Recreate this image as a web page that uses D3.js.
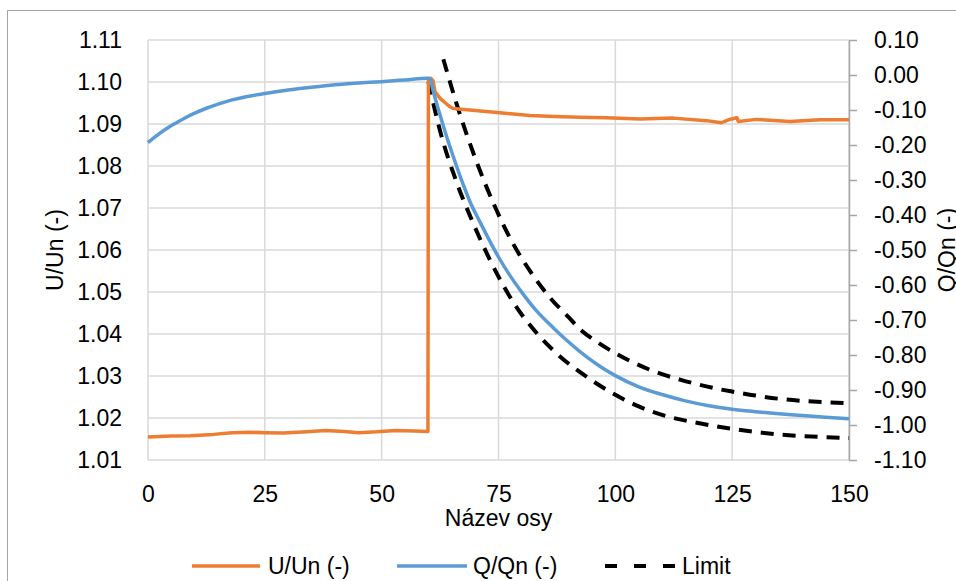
<!DOCTYPE html>
<html><head><meta charset="utf-8">
<script src="https://cdn.jsdelivr.net/npm/d3@7"></script>
<style>
html,body{margin:0;padding:0;background:#fff;overflow:hidden}
text{font-family:"Liberation Sans",Arial,sans-serif;fill:#000}
</style></head>
<body>
<svg id="c" width="956" height="581"></svg>
<script>
// ---- data ----
const xTicks = [0, 25, 50, 75, 100, 125, 150];
const uTicks = [1.01, 1.02, 1.03, 1.04, 1.05, 1.06, 1.07, 1.08, 1.09, 1.10, 1.11];
const qTicks = [-1.10, -1.00, -0.90, -0.80, -0.70, -0.60, -0.50, -0.40, -0.30, -0.20, -0.10, 0.00, 0.10];

const uTime = [0, 5, 9, 14, 18, 22, 25, 29, 34, 38, 42, 45, 49, 53, 57, 59.9, 60.0, 60.5, 61.0, 61.4, 62.5, 64.6, 65.3, 70, 75.3, 81.7, 87, 92.4, 98, 105.3, 112.4, 119.5, 122.7, 124.2, 126.0, 126.3, 130.2, 137.4, 143.8, 150];
const uValues = [1.0155, 1.0157, 1.0158, 1.0161, 1.0165, 1.0166, 1.0165, 1.0164, 1.0167, 1.0170, 1.0168, 1.0165, 1.0167, 1.0170, 1.0169, 1.0168, 1.1006, 1.1009, 1.1003, 1.0977, 1.0961, 1.0941, 1.0937, 1.0932, 1.0927, 1.0920, 1.0918, 1.0916, 1.0915, 1.0912, 1.0914, 1.0908, 1.0903, 1.0910, 1.0915, 1.0906, 1.0911, 1.0906, 1.0910, 1.0910];

const qTime = [0, 2, 4, 6, 8, 10, 12.5, 15, 18, 21, 25, 30, 35, 40, 45, 50, 55, 59.9, 60.3, 61, 62, 63, 64, 65.3, 67, 68.9, 71, 73, 75, 77.5, 80, 83, 86.7, 90, 94, 97, 100, 105, 110, 115, 120, 125, 130, 135, 140, 145, 150];
const qValues = [-0.193, -0.172, -0.153, -0.137, -0.122, -0.109, -0.095, -0.083, -0.071, -0.062, -0.053, -0.043, -0.035, -0.028, -0.023, -0.019, -0.014, -0.009, -0.010, -0.045, -0.092, -0.137, -0.180, -0.232, -0.297, -0.362, -0.419, -0.471, -0.520, -0.574, -0.621, -0.672, -0.722, -0.763, -0.807, -0.835, -0.859, -0.891, -0.913, -0.931, -0.945, -0.955, -0.962, -0.968, -0.973, -0.978, -0.982];

const limUpTime = [63.2, 66, 70, 74, 78, 82, 86, 90, 92.4, 96, 100, 103, 107, 110.3, 114, 118, 122, 125.2, 130, 135, 140, 145, 150];
const limUpValues = [0.045, -0.081, -0.237, -0.369, -0.479, -0.565, -0.636, -0.692, -0.726, -0.762, -0.795, -0.816, -0.840, -0.856, -0.871, -0.885, -0.897, -0.905, -0.916, -0.925, -0.931, -0.935, -0.938];

const limLoTime = [60, 62.5, 66, 69.6, 73.2, 78.2, 83.2, 87.4, 94.6, 99.9, 105, 111, 118, 124.5, 130, 135, 142, 150];
const limLoValues = [-0.019, -0.160, -0.305, -0.424, -0.529, -0.650, -0.738, -0.795, -0.869, -0.913, -0.947, -0.975, -0.995, -1.010, -1.020, -1.027, -1.033, -1.037];

const seriesNames = ["U/Un (-)", "Q/Qn (-)", "Limit"];
const colors = {u: "#ED7D31", q: "#5B9BD5", lim: "#000000"};

// ---- layout ----
const svg = d3.select("#c");
const L = 148, R = 849, T = 40, B = 460;
const x = d3.scaleLinear().domain([0, 150]).range([L, R]);
const yU = d3.scaleLinear().domain([1.01, 1.11]).range([B, T]);
const yQ = d3.scaleLinear().domain([-1.10, 0.10]).range([B, T]);

// outer chart border
svg.append("rect").attr("x", 7.5).attr("y", 10.5).attr("width", 1200).attr("height", 1200)
  .attr("fill", "none").attr("stroke", "#A6A6A6").attr("stroke-width", 1);

// gridlines
const grid = svg.append("g").attr("stroke", "#D9D9D9").attr("stroke-width", 1.5);
xTicks.forEach(t => grid.append("line").attr("x1", x(t)).attr("x2", x(t)).attr("y1", T).attr("y2", B));
uTicks.forEach(t => grid.append("line").attr("x1", L).attr("x2", R).attr("y1", yU(t)).attr("y2", yU(t)));

const FONT = "Liberation Sans, Arial, sans-serif";
// left axis labels
const axL = svg.append("g").attr("transform", `translate(${L},0)`)
  .call(d3.axisLeft(yU).tickValues(uTicks).tickFormat(d3.format(".2f")).tickSize(0).tickPadding(26));
axL.select(".domain").remove();
axL.selectAll("text").style("font-size", "23px").style("font-family", FONT).attr("fill", "#000");

// right axis
const axR = svg.append("g").attr("transform", `translate(${R},0)`)
  .call(d3.axisRight(yQ).tickValues(qTicks).tickFormat(d => d3.format(".2f")(d).replace("−", "-")).tickSize(8).tickSizeOuter(0).tickPadding(17));
axR.select(".domain").attr("stroke", "#A6A6A6").attr("stroke-width", 1.5);
axR.selectAll(".tick line").attr("stroke", "#A6A6A6").attr("stroke-width", 1.5);
axR.selectAll("text").style("font-size", "23px").style("font-family", FONT).attr("fill", "#000");

// bottom axis labels
const axB = svg.append("g").attr("transform", `translate(0,${B})`)
  .call(d3.axisBottom(x).tickValues(xTicks).tickFormat(d3.format("d")).tickSize(0).tickPadding(26));
axB.select(".domain").remove();
axB.selectAll("text").style("font-size", "23px").style("font-family", FONT).attr("fill", "#000");

// axis titles
svg.append("text").attr("x", (L + R) / 2).attr("y", 526).attr("text-anchor", "middle")
  .style("font-size", "23px").text("Název osy");
svg.append("text").attr("transform", `translate(63,250) rotate(-90)`).attr("text-anchor", "middle")
  .style("font-size", "23px").text("U/Un (-)");
svg.append("text").attr("transform", `translate(955,250) rotate(-90)`).attr("text-anchor", "middle")
  .style("font-size", "23px").text("Q/Qn (-)");

// series
const lineU = d3.line().x((d, i) => x(uTime[i])).y(d => yU(d));
const mkQ = times => d3.line().curve(d3.curveMonotoneX).x((d, i) => x(times[i])).y(d => yQ(d));

svg.append("path").attr("d", mkQ(limLoTime)(limLoValues)).attr("fill", "none")
  .attr("stroke", colors.lim).attr("stroke-width", 4).attr("stroke-dasharray", "13,9");
svg.append("path").attr("d", mkQ(limUpTime)(limUpValues)).attr("fill", "none")
  .attr("stroke", colors.lim).attr("stroke-width", 4).attr("stroke-dasharray", "13,9");
svg.append("path").attr("d", lineU(uValues)).attr("fill", "none")
  .attr("stroke", colors.u).attr("stroke-width", 3.5).attr("stroke-linejoin", "round");
svg.append("path").attr("d", mkQ(qTime)(qValues)).attr("fill", "none")
  .attr("stroke", colors.q).attr("stroke-width", 3.5).attr("stroke-linejoin", "round");

// legend
const leg = [
  {name: seriesNames[0], c: colors.u, x1: 192, x2: 260, tx: 268, dash: null, w: 3.5},
  {name: seriesNames[1], c: colors.q, x1: 397, x2: 467, tx: 473, dash: null, w: 3.5},
  {name: seriesNames[2], c: colors.lim, x1: 605, x2: 675, tx: 682, dash: "12,17", w: 4}
];
const lg = svg.append("g");
leg.forEach(l => {
  const ln = lg.append("line").attr("x1", l.x1).attr("x2", l.x2).attr("y1", 566).attr("y2", 566)
    .attr("stroke", l.c).attr("stroke-width", l.w);
  if (l.dash) ln.attr("stroke-dasharray", l.dash);
  lg.append("text").attr("x", l.tx).attr("y", 566).attr("dy", "0.35em").style("font-size", "23px").text(l.name);
});
</script>
</body></html>
